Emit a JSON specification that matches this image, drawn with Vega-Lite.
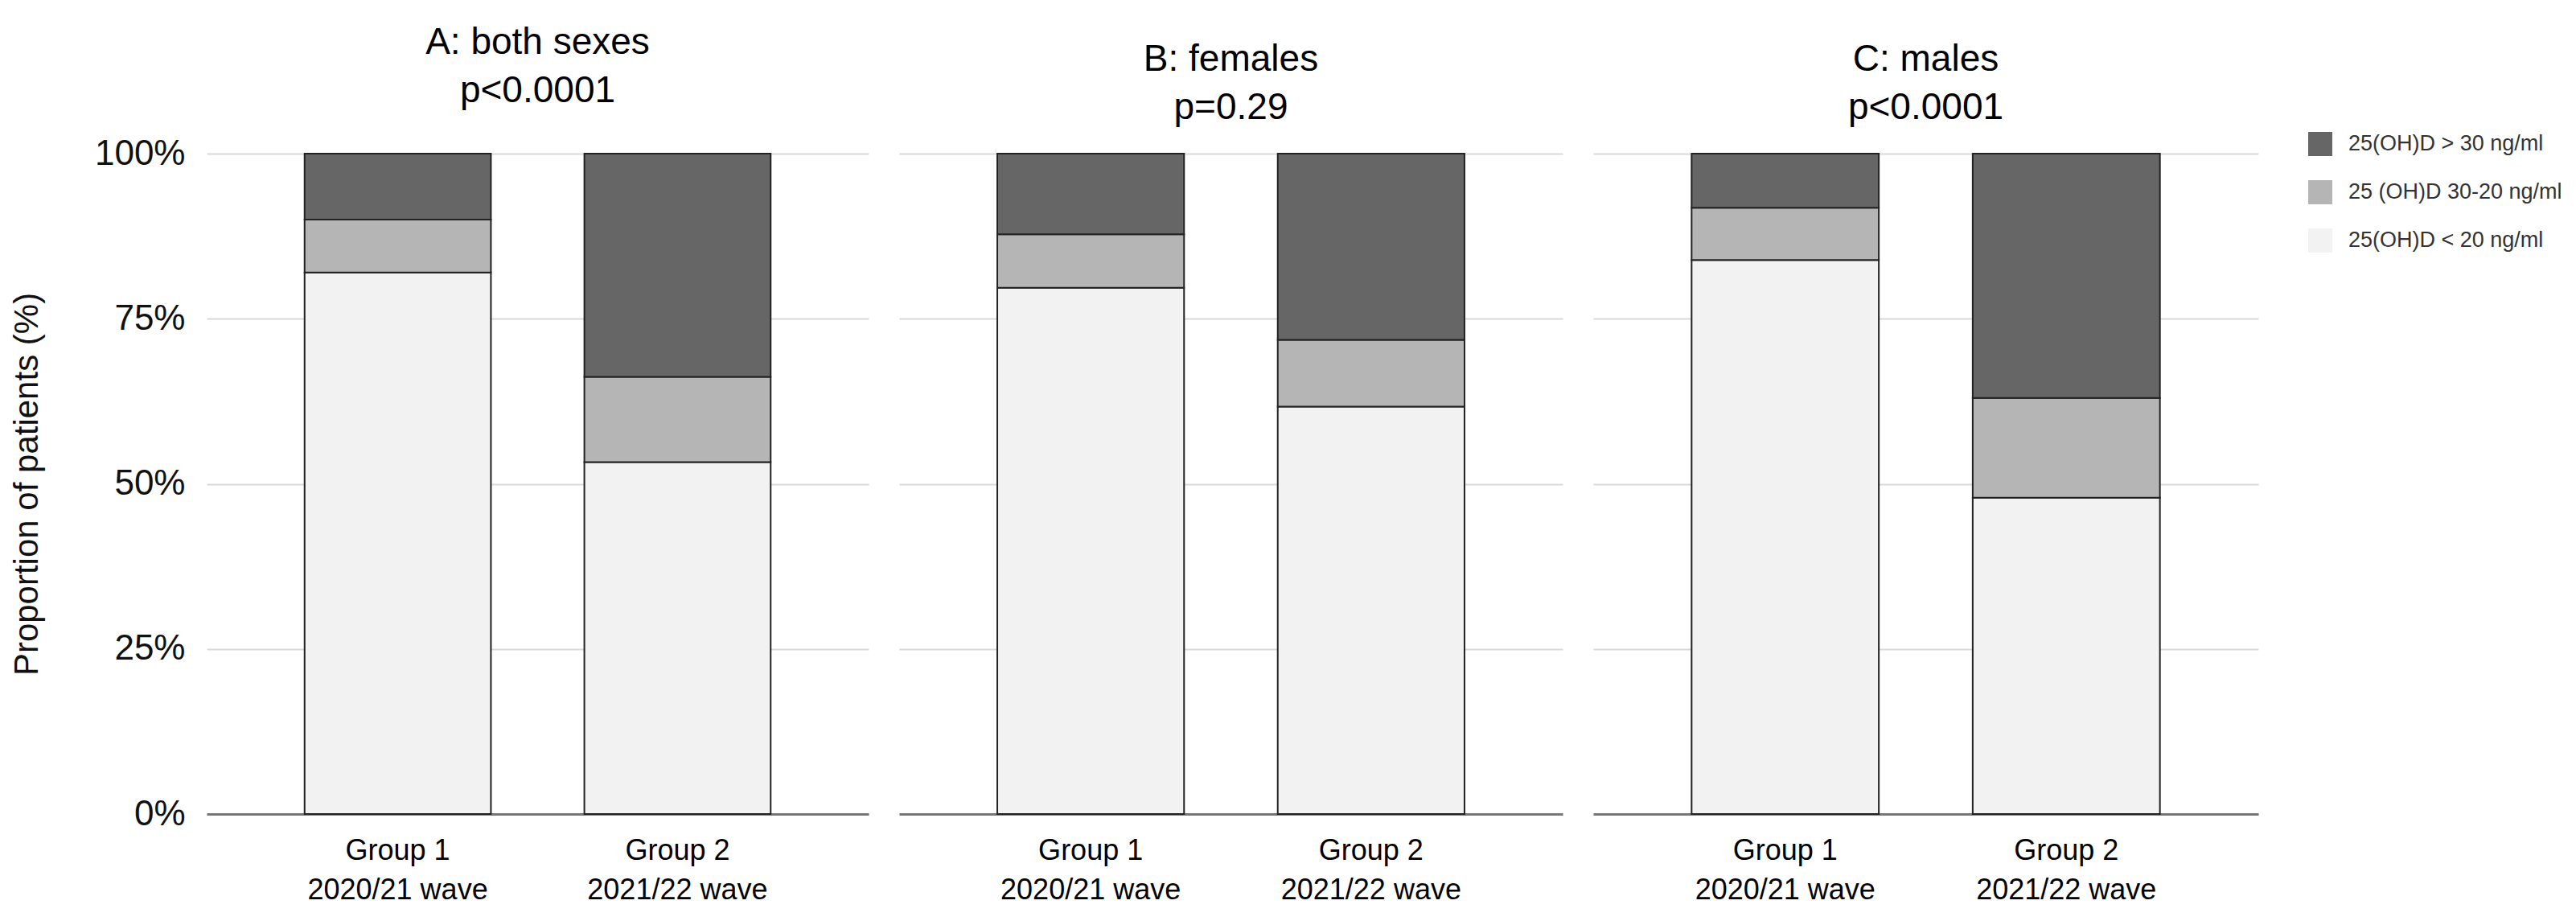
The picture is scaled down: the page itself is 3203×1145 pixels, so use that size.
{
  "$schema": "https://vega.github.io/schema/vega-lite/v6.json",
  "padding": {"left": 12, "top": 30, "right": 5, "bottom": 5},
  "background": "white",
  "datasets": {
    "d": [
      {"panel": "A", "group": "Group 1|2020/21 wave", "level": "25(OH)D < 20 ng/ml", "ord": 1, "value": 82},
      {"panel": "A", "group": "Group 1|2020/21 wave", "level": "25 (OH)D 30-20 ng/ml", "ord": 2, "value": 8},
      {"panel": "A", "group": "Group 1|2020/21 wave", "level": "25(OH)D > 30 ng/ml", "ord": 3, "value": 10},
      {"panel": "A", "group": "Group 2|2021/22 wave", "level": "25(OH)D < 20 ng/ml", "ord": 1, "value": 53.3},
      {"panel": "A", "group": "Group 2|2021/22 wave", "level": "25 (OH)D 30-20 ng/ml", "ord": 2, "value": 12.9},
      {"panel": "A", "group": "Group 2|2021/22 wave", "level": "25(OH)D > 30 ng/ml", "ord": 3, "value": 33.8},
      {"panel": "B", "group": "Group 1|2020/21 wave", "level": "25(OH)D < 20 ng/ml", "ord": 1, "value": 79.7},
      {"panel": "B", "group": "Group 1|2020/21 wave", "level": "25 (OH)D 30-20 ng/ml", "ord": 2, "value": 8.1},
      {"panel": "B", "group": "Group 1|2020/21 wave", "level": "25(OH)D > 30 ng/ml", "ord": 3, "value": 12.2},
      {"panel": "B", "group": "Group 2|2021/22 wave", "level": "25(OH)D < 20 ng/ml", "ord": 1, "value": 61.7},
      {"panel": "B", "group": "Group 2|2021/22 wave", "level": "25 (OH)D 30-20 ng/ml", "ord": 2, "value": 10.1},
      {"panel": "B", "group": "Group 2|2021/22 wave", "level": "25(OH)D > 30 ng/ml", "ord": 3, "value": 28.2},
      {"panel": "C", "group": "Group 1|2020/21 wave", "level": "25(OH)D < 20 ng/ml", "ord": 1, "value": 83.9},
      {"panel": "C", "group": "Group 1|2020/21 wave", "level": "25 (OH)D 30-20 ng/ml", "ord": 2, "value": 7.9},
      {"panel": "C", "group": "Group 1|2020/21 wave", "level": "25(OH)D > 30 ng/ml", "ord": 3, "value": 8.2},
      {"panel": "C", "group": "Group 2|2021/22 wave", "level": "25(OH)D < 20 ng/ml", "ord": 1, "value": 47.9},
      {"panel": "C", "group": "Group 2|2021/22 wave", "level": "25 (OH)D 30-20 ng/ml", "ord": 2, "value": 15.1},
      {"panel": "C", "group": "Group 2|2021/22 wave", "level": "25(OH)D > 30 ng/ml", "ord": 3, "value": 37}
    ]
  },
  "config": {
    "view": {"stroke": null},
    "font": "Liberation Sans",
    "title": {
      "font": "Liberation Sans",
      "fontSize": 46,
      "fontWeight": "normal",
      "color": "#000000",
      "subtitleFont": "Liberation Sans",
      "subtitleFontSize": 46,
      "subtitleColor": "#000000",
      "subtitlePadding": 14,
      "anchor": "middle",
      "offset": 32
    },
    "axisX": {
      "title": null,
      "labelAngle": 0,
      "labelFontSize": 36,
      "labelLineHeight": 49,
      "labelColor": "#000000",
      "labelPadding": 28,
      "labelLimit": 0,
      "ticks": false,
      "domainColor": "#777777",
      "domainWidth": 3,
      "grid": false
    },
    "axisY": {
      "grid": true,
      "gridColor": "#d9d9d9",
      "gridWidth": 2,
      "domain": false,
      "ticks": false,
      "labelFontSize": 44,
      "labelColor": "#111111",
      "labelPadding": 27,
      "titleFontSize": 42,
      "titleFontWeight": "normal",
      "titleColor": "#111111"
    },
    "legend": {
      "title": null,
      "orient": "none",
      "legendX": 2613,
      "legendY": -27,
      "symbolType": "square",
      "symbolSize": 900,
      "symbolStrokeWidth": 0,
      "labelFontSize": 27,
      "labelLimit": 0,
      "labelColor": "#333333",
      "labelOffset": 20,
      "rowPadding": 30
    }
  },
  "spacing": 38,
  "resolve": {"scale": {"color": "shared"}},
  "hconcat": [
    {
      "width": 823,
      "height": 821,
      "title": {"text": "A: both sexes", "subtitle": "p<0.0001"},
      "data": {"name": "d"},
      "transform": [{"filter": "datum.panel == 'A'"}],
      "mark": {"type": "bar", "stroke": "#222222", "strokeWidth": 2},
      "encoding": {
        "x": {"field": "group", "type": "nominal", "sort": null, "scale": {"paddingInner": 0.334, "paddingOuter": 0.35}, "axis": {"labelExpr": "split(datum.value, '|')"}},
        "y": {"field": "value", "type": "quantitative", "stack": "zero", "scale": {"domain": [0, 100]}, "axis": {"values": [0, 25, 50, 75, 100], "labelExpr": "datum.value + '%'", "title": "Proportion of patients (%)", "titlePadding": 62}},
        "color": {"field": "level", "type": "nominal", "scale": {"domain": ["25(OH)D > 30 ng/ml", "25 (OH)D 30-20 ng/ml", "25(OH)D < 20 ng/ml"], "range": ["#666666", "#b5b5b5", "#f2f2f2"]}},
        "order": {"field": "ord", "type": "quantitative"}
      }
    },
    {
      "width": 825,
      "height": 821,
      "title": {"text": "B: females", "subtitle": "p=0.29"},
      "data": {"name": "d"},
      "transform": [{"filter": "datum.panel == 'B'"}],
      "mark": {"type": "bar", "stroke": "#222222", "strokeWidth": 2},
      "encoding": {
        "x": {"field": "group", "type": "nominal", "sort": null, "scale": {"paddingInner": 0.334, "paddingOuter": 0.35}, "axis": {"labelExpr": "split(datum.value, '|')"}},
        "y": {"field": "value", "type": "quantitative", "stack": "zero", "scale": {"domain": [0, 100]}, "axis": {"values": [0, 25, 50, 75, 100], "labels": false, "title": null}},
        "color": {"field": "level", "type": "nominal", "scale": {"domain": ["25(OH)D > 30 ng/ml", "25 (OH)D 30-20 ng/ml", "25(OH)D < 20 ng/ml"], "range": ["#666666", "#b5b5b5", "#f2f2f2"]}},
        "order": {"field": "ord", "type": "quantitative"}
      }
    },
    {
      "width": 827,
      "height": 821,
      "title": {"text": "C: males", "subtitle": "p<0.0001"},
      "data": {"name": "d"},
      "transform": [{"filter": "datum.panel == 'C'"}],
      "mark": {"type": "bar", "stroke": "#222222", "strokeWidth": 2},
      "encoding": {
        "x": {"field": "group", "type": "nominal", "sort": null, "scale": {"paddingInner": 0.334, "paddingOuter": 0.35}, "axis": {"labelExpr": "split(datum.value, '|')"}},
        "y": {"field": "value", "type": "quantitative", "stack": "zero", "scale": {"domain": [0, 100]}, "axis": {"values": [0, 25, 50, 75, 100], "labels": false, "title": null}},
        "color": {"field": "level", "type": "nominal", "scale": {"domain": ["25(OH)D > 30 ng/ml", "25 (OH)D 30-20 ng/ml", "25(OH)D < 20 ng/ml"], "range": ["#666666", "#b5b5b5", "#f2f2f2"]}},
        "order": {"field": "ord", "type": "quantitative"}
      }
    }
  ]
}
